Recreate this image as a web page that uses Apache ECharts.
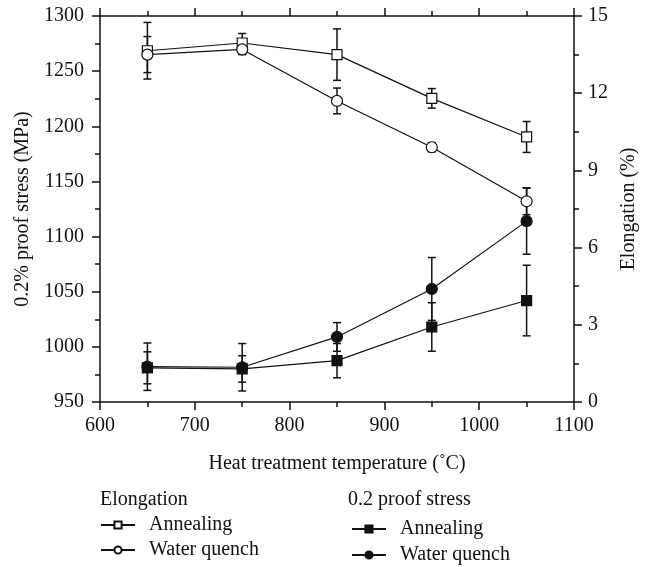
<!DOCTYPE html>
<html>
<head>
<meta charset="utf-8">
<script src="https://cdn.jsdelivr.net/npm/echarts@6/dist/echarts.min.js"></script>
<style>
  html, body { margin: 0; padding: 0; background: #fff; }
  #chart_main { width: 650px; height: 567px; }
</style>
</head>
<body>
<div id="chart_main"></div>
<script>
  // values
  let temps = [650, 750, 850, 950, 1050]
  let elongAnnealing = [13.65, 13.95, 13.5, 11.8, 10.3]
  let elongAnnealingErr = [1.1, 0.37, 1.0, 0.38, 0.6]
  let elongQuench = [13.5, 13.7, 11.7, 9.9, 7.8]
  let elongQuenchErr = [0.7, 0.2, 0.5, 0.18, 0.52]
  let stressAnnealing = [981, 980, 987.5, 1018, 1042]
  let stressAnnealingErr = [14.5, 12, 15.5, 22, 32]
  let stressQuench = [982, 981.5, 1009, 1052.5, 1114]
  let stressQuenchErr = [21.5, 21.5, 13, 28.5, 30]

  let xTicks = [600, 700, 800, 900, 1000, 1100]

  const font = "'Liberation Serif', 'DejaVu Serif', serif"
  const black = '#111'

  let pairs = (vals) => temps.map((t, i) => [t, vals[i]])
  let errPairs = (vals, errs) => temps.map((t, i) => [t, vals[i], errs[i]])

  function errorBars (name, yIndex, vals, errs) {
    return {
      name: name + '-err',
      type: 'custom',
      yAxisIndex: yIndex,
      z: 1,
      silent: true,
      data: errPairs(vals, errs),
      renderItem: function (params, api) {
        let x = api.value(0)
        let y = api.value(1)
        let e = api.value(2)
        let top = api.coord([x, y + e])
        let bot = api.coord([x, y - e])
        let hw = 4
        let st = { stroke: black, lineWidth: 1.5 }
        return {
          type: 'group',
          children: [
            { type: 'line', shape: { x1: top[0], y1: top[1], x2: bot[0], y2: bot[1] }, style: st },
            { type: 'line', shape: { x1: top[0] - hw, y1: top[1], x2: top[0] + hw, y2: top[1] }, style: st },
            { type: 'line', shape: { x1: bot[0] - hw, y1: bot[1], x2: bot[0] + hw, y2: bot[1] }, style: st }
          ]
        }
      }
    }
  }

  function lineSeries (name, yIndex, vals, symbol, filled) {
    return {
      name: name,
      type: 'line',
      yAxisIndex: yIndex,
      z: 3,
      data: pairs(vals),
      symbol: symbol,
      symbolSize: symbol === 'rect' ? 10 : 11,
      showAllSymbol: true,
      lineStyle: { color: black, width: 1.2 },
      itemStyle: { color: filled ? black : '#fff', borderColor: black, borderWidth: 1.2 },
      emphasis: { disabled: true }
    }
  }

  let axisCommon = {
    axisLine: { show: true, onZero: false, lineStyle: { color: black, width: 1.5 } },
    axisTick: { show: true, inside: false, length: 8, lineStyle: { color: black, width: 1.5 } },
    minorTick: { show: true, splitNumber: 2, length: 5, lineStyle: { color: black, width: 1.5 } },
    splitLine: { show: false },
    minorSplitLine: { show: false }
  }

  let legendText = { fontSize: 20, fontFamily: font, color: black, lineHeight: 20, padding: [0, 0, 0, 9] }

  let chart = echarts.init(document.getElementById('chart_main'))
  let options = {
    backgroundColor: '#fff',
    animation: false,
    textStyle: { fontFamily: font, color: black },
    grid: { left: 100, right: 76, top: 16, bottom: 165 },
    xAxis: [
      Object.assign({
        type: 'value',
        min: 600,
        max: 1100,
        interval: 100,
        name: 'Heat treatment temperature (˚C)',
        nameLocation: 'middle',
        nameGap: 52,
        nameTextStyle: { fontSize: 20, fontFamily: font, color: black },
        axisLabel: {
          fontSize: 20, fontFamily: font, color: black, margin: 14,
          formatter: (v) => xTicks.indexOf(v) >= 0 ? String(v) : ''
        }
      }, axisCommon),
      Object.assign({
        type: 'value',
        position: 'top',
        min: 600,
        max: 1100,
        interval: 100,
        axisLabel: { show: false }
      }, axisCommon)
    ],
    yAxis: [
      Object.assign({
        type: 'value',
        min: 950,
        max: 1300,
        interval: 50,
        name: '0.2% proof stress (MPa)',
        nameLocation: 'middle',
        nameGap: 56,
        nameTextStyle: { fontSize: 20, fontFamily: font, color: black },
        axisLabel: { fontSize: 20, fontFamily: font, color: black, margin: 16, formatter: (v) => String(v) }
      }, axisCommon),
      Object.assign({
        type: 'value',
        position: 'right',
        min: 0,
        max: 15,
        interval: 3,
        name: 'Elongation (%)',
        nameLocation: 'middle',
        nameGap: 44,
        nameTextStyle: { fontSize: 20, fontFamily: font, color: black },
        axisLabel: { fontSize: 20, fontFamily: font, color: black, margin: 14 }
      }, axisCommon)
    ],
    legend: [
      {
        orient: 'vertical',
        left: 100,
        top: 515,
        padding: 0,
        itemWidth: 34,
        itemHeight: 9,
        itemGap: 5,
        selectedMode: false,
        data: ['Elongation Annealing', 'Elongation Water quench'],
        formatter: (n) => n.replace('Elongation ', ''),
        textStyle: legendText
      },
      {
        orient: 'vertical',
        left: 351,
        top: 519,
        padding: 0,
        itemWidth: 34,
        itemHeight: 9,
        itemGap: 6,
        selectedMode: false,
        data: ['Stress Annealing', 'Stress Water quench'],
        formatter: (n) => n.replace('Stress ', ''),
        textStyle: legendText
      }
    ],
    graphic: [
      { type: 'text', left: 100, top: 490, style: { text: 'Elongation', fontSize: 20, fontFamily: font, fill: black } },
      { type: 'text', left: 348, top: 490, style: { text: '0.2 proof stress', fontSize: 20, fontFamily: font, fill: black } }
    ],
    series: [
      errorBars('Elongation Annealing', 1, elongAnnealing, elongAnnealingErr),
      errorBars('Elongation Water quench', 1, elongQuench, elongQuenchErr),
      errorBars('Stress Annealing', 0, stressAnnealing, stressAnnealingErr),
      errorBars('Stress Water quench', 0, stressQuench, stressQuenchErr),
      lineSeries('Elongation Annealing', 1, elongAnnealing, 'rect', false),
      lineSeries('Elongation Water quench', 1, elongQuench, 'circle', false),
      lineSeries('Stress Annealing', 0, stressAnnealing, 'rect', true),
      lineSeries('Stress Water quench', 0, stressQuench, 'circle', true)
    ]
  }
  chart.setOption(options)
</script>
</body>
</html>
